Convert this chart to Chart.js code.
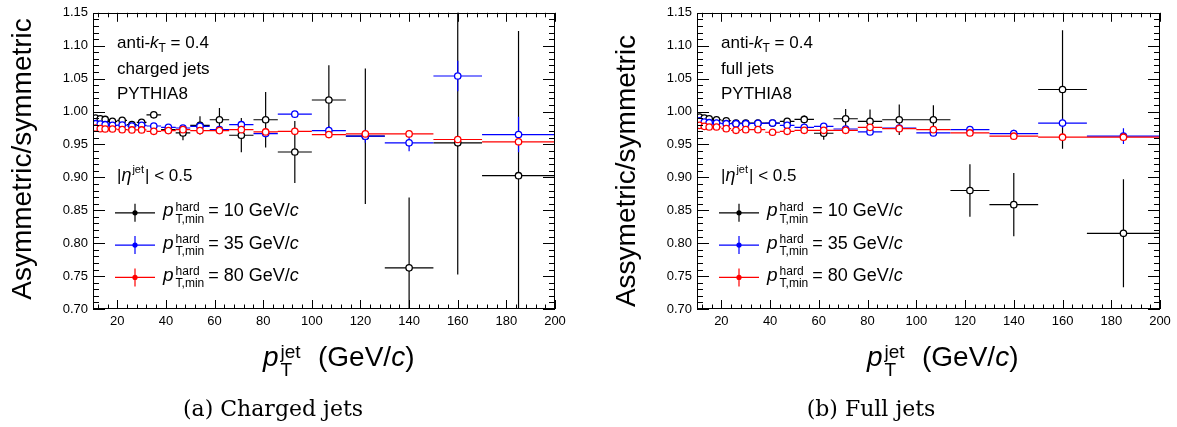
<!DOCTYPE html>
<html>
<head>
<meta charset="utf-8">
<script src="https://cdn.jsdelivr.net/npm/chart.js@4.4.1/dist/chart.umd.min.js"></script>
<style>
  html, body { margin: 0; padding: 0; background: #fff; width: 1177px; height: 427px; overflow: hidden; }
  canvas { position: absolute; top: 0; }
  #charged { left: 0; }
  #full { left: 588px; }
</style>
</head>
<body>
<canvas id="charged" width="588" height="427"></canvas>
<canvas id="full" width="589" height="427"></canvas>
<script>
// pT bins (GeV/c)
const binLow  = [10, 12, 14, 16, 20, 24, 28, 32, 38, 44, 50, 58, 66, 76, 86, 100, 114, 130, 150, 170];
const binHigh = [12, 14, 16, 20, 24, 28, 32, 38, 44, 50, 58, 66, 76, 86, 100, 114, 130, 150, 170, 200];

const xTickLabels = [20, 40, 60, 80, 100, 120, 140, 160, 180, 200];
const yTickLabels = [0.70, 0.75, 0.80, 0.85, 0.90, 0.95, 1.00, 1.05, 1.10, 1.15];

const hardLabels = ['10', '35', '80'];
const colors = ['#000000', '#0000ff', '#ff0000'];

// charged jets
const charged10    = [0.990, 0.989, 0.988, 0.985, 0.9865, 0.980, 0.9835, 0.995, 0.9725, 0.9675, 0.979, 0.9875, 0.964, 0.9875, 0.9385, 1.0175, 0.9625, 0.7625, 0.9525, 0.9025];
const charged10Err = [0.002, 0.002, 0.002, 0.002, 0.002, 0.002, 0.003, 0.004, 0.005, 0.011, 0.014, 0.018, 0.026, 0.042, 0.047, 0.053, 0.103, 0.107, 0.200, 0.220];
const charged35    = [0.9815, 0.981, 0.980, 0.979, 0.9795, 0.978, 0.979, 0.978, 0.976, 0.975, 0.9775, 0.9725, 0.980, 0.9665, 0.996, 0.971, 0.9625, 0.9525, 1.054, 0.965];
const charged35Err = [0.001, 0.001, 0.001, 0.001, 0.001, 0.001, 0.001, 0.001, 0.002, 0.002, 0.002, 0.002, 0.003, 0.003, 0.004, 0.007, 0.010, 0.013, 0.023, 0.027];
const charged80    = [0.975, 0.974, 0.9735, 0.9735, 0.9725, 0.972, 0.972, 0.970, 0.971, 0.9725, 0.971, 0.971, 0.9725, 0.969, 0.970, 0.965, 0.966, 0.966, 0.9575, 0.954];
const charged80Err = [0.001, 0.001, 0.001, 0.001, 0.001, 0.001, 0.001, 0.001, 0.001, 0.001, 0.001, 0.002, 0.002, 0.002, 0.002, 0.003, 0.003, 0.004, 0.004, 0.003];

// full jets
const full10    = [0.9915, 0.990, 0.989, 0.9875, 0.986, 0.9825, 0.9825, 0.9825, 0.9825, 0.985, 0.988, 0.967, 0.989, 0.985, 0.9875, 0.9875, 0.880, 0.8585, 1.0335, 0.815];
const full10Err = [0.002, 0.002, 0.002, 0.002, 0.002, 0.002, 0.002, 0.003, 0.003, 0.004, 0.006, 0.010, 0.015, 0.018, 0.023, 0.022, 0.040, 0.048, 0.090, 0.082];
const full35    = [0.986, 0.984, 0.983, 0.9825, 0.9815, 0.9815, 0.9815, 0.982, 0.9825, 0.979, 0.976, 0.9775, 0.9735, 0.969, 0.975, 0.9675, 0.9725, 0.9665, 0.9825, 0.9625];
const full35Err = [0.001, 0.001, 0.001, 0.001, 0.001, 0.001, 0.001, 0.001, 0.001, 0.001, 0.002, 0.002, 0.002, 0.002, 0.002, 0.003, 0.003, 0.006, 0.007, 0.012];
const full80    = [0.979, 0.9775, 0.9765, 0.9765, 0.974, 0.9715, 0.9725, 0.9725, 0.9685, 0.970, 0.9715, 0.9715, 0.9715, 0.976, 0.974, 0.9725, 0.9675, 0.9625, 0.961, 0.961];
const full80Err = [0.001, 0.001, 0.001, 0.001, 0.001, 0.001, 0.001, 0.001, 0.001, 0.001, 0.001, 0.001, 0.002, 0.002, 0.002, 0.002, 0.003, 0.003, 0.004, 0.004];

const SANS = '"Liberation Sans", Arial, sans-serif';

function series(vals, errs, i) {
    return {
        label: hardLabels[i],
        data: vals.map((v, k) => ({ x: (binLow[k] + binHigh[k]) / 2, y: v, err: errs[k], lo: binLow[k], hi: binHigh[k] })),
        borderColor: colors[i],
        backgroundColor: '#ffffff',
        pointRadius: 3.2,
        pointBorderWidth: 1.3,
        pointHoverRadius: 3.2,
        showLine: false,
        order: 3 - i
    };
}

// draw a list of text runs: [text, font, dy]
function drawRuns(ctx, x, y, runs) {
    for (const r of runs) {
        ctx.font = r[1];
        ctx.fillText(r[0], x, y + (r[2] || 0));
        x += ctx.measureText(r[0]).width;
    }
    return x;
}

const errorBars = {
    id: 'errorBars',
    beforeDatasetDraw(chart, args) {
        const { ctx, chartArea: a, scales: { x, y } } = chart;
        const ds = chart.data.datasets[args.index];
        ctx.save();
        ctx.beginPath();
        ctx.rect(a.left, a.top, a.width, a.height);
        ctx.clip();
        ctx.strokeStyle = ds.borderColor;
        ctx.lineWidth = 1.2;
        ctx.beginPath();
        ds.data.forEach(p => {
            const py = y.getPixelForValue(p.y);
            const px = x.getPixelForValue(p.x);
            ctx.moveTo(x.getPixelForValue(p.lo), py);
            ctx.lineTo(x.getPixelForValue(p.hi), py);
            ctx.moveTo(px, y.getPixelForValue(p.y + p.err));
            ctx.lineTo(px, y.getPixelForValue(p.y - p.err));
        });
        ctx.stroke();
        ctx.restore();
    }
};

const frameAndText = {
    id: 'frameAndText',
    afterDraw(chart, args, o) {
        const { ctx, chartArea: a, scales: { x, y } } = chart;
        ctx.save();
        ctx.strokeStyle = '#000';
        ctx.lineWidth = 1;
        ctx.strokeRect(Math.round(a.left) + 0.5, Math.round(a.top) + 0.5, Math.round(a.width) - 1, Math.round(a.height) - 1);

        // ticks on all four sides, pointing inwards
        ctx.beginPath();
        for (let v = 12; v <= 200; v += 4) {
            const px = Math.round(x.getPixelForValue(v)) + 0.5;
            const len = v % 20 === 0 ? 9 : 4.5;
            ctx.moveTo(px, a.bottom); ctx.lineTo(px, a.bottom - len);
            ctx.moveTo(px, a.top); ctx.lineTo(px, a.top + len);
        }
        for (let k = 70; k <= 115; k++) {
            const py = Math.round(y.getPixelForValue(k / 100)) + 0.5;
            const len = k % 5 === 0 ? 12 : 6;
            ctx.moveTo(a.left, py); ctx.lineTo(a.left + len, py);
            ctx.moveTo(a.right, py); ctx.lineTo(a.right - len, py);
        }
        ctx.stroke();

        ctx.fillStyle = '#000';
        ctx.textBaseline = 'alphabetic';
        ctx.textAlign = 'left';

        // annotations
        const tx = a.left + 24;
        drawRuns(ctx, tx, a.top + 35, [['anti-', '17px ' + SANS], ['k', 'italic 17px ' + SANS], ['T', '12px ' + SANS, 4], [' = 0.4', '17px ' + SANS]]);
        drawRuns(ctx, tx, a.top + 61, [[o.jets, '17px ' + SANS]]);
        drawRuns(ctx, tx, a.top + 86, [['PYTHIA8', '17px ' + SANS]]);
        let ex = drawRuns(ctx, tx, a.top + 168, [['|', '17px ' + SANS], ['\u03b7', 'italic 18px ' + SANS]]);
        ex = drawRuns(ctx, ex + 1, a.top + 168, [['jet', '11px ' + SANS, -8]]);
        drawRuns(ctx, ex + 1, a.top + 168, [['| < 0.5', '17px ' + SANS]]);

        // legend
        hardLabels.forEach((h, i) => {
            const cy = a.top + 200 + i * 32.3;
            ctx.strokeStyle = colors[i];
            ctx.fillStyle = colors[i];
            ctx.lineWidth = 1.2;
            ctx.beginPath();
            ctx.moveTo(a.left + 22, cy); ctx.lineTo(a.left + 62, cy);
            ctx.moveTo(a.left + 42, cy - 9); ctx.lineTo(a.left + 42, cy + 9);
            ctx.stroke();
            ctx.beginPath();
            ctx.arc(a.left + 42, cy, 2.6, 0, Math.PI * 2);
            ctx.fill();
            ctx.fillStyle = '#000';
            const bx = drawRuns(ctx, a.left + 70, cy + 3.5, [['p', 'italic 19px ' + SANS]]);
            ctx.font = '12px ' + SANS;
            const sw = Math.max(ctx.measureText('hard').width, ctx.measureText('T,min').width);
            drawRuns(ctx, bx + 2, cy - 2, [['hard', '12px ' + SANS]]);
            drawRuns(ctx, bx + 2, cy + 10, [['T,min', '12px ' + SANS]]);
            drawRuns(ctx, bx + sw + 6, cy + 3.5, [['= ' + h + ' GeV/', '18px ' + SANS], ['c', 'italic 18px ' + SANS]]);
        });

        // x title
        let xx = drawRuns(ctx, a.left + 170, 366, [['p', 'italic 28px ' + SANS]]);
        drawRuns(ctx, xx + 2, 358, [['jet', '19px ' + SANS]]);
        drawRuns(ctx, xx + 2, 376, [['T', '19px ' + SANS]]);
        drawRuns(ctx, a.left + 225, 366, [['(GeV/', '28px ' + SANS], ['c', 'italic 28px ' + SANS], [')', '28px ' + SANS]]);

        // y title
        ctx.save();
        ctx.translate(a.left - 62, o.yTitleY);
        ctx.rotate(-Math.PI / 2);
        ctx.textAlign = 'center';
        ctx.font = '28px ' + SANS;
        ctx.fillText(o.yTitle, 0, 0);
        ctx.restore();

        // caption
        ctx.textAlign = 'center';
        ctx.font = '22px "DejaVu Serif", serif';
        ctx.fillText(o.caption, a.left + o.captionDx, 416);
        ctx.restore();
    }
};

function makeChart(id, sets, padRight, axisWidth, text) {
    return new Chart(document.getElementById(id), {
        type: 'scatter',
        data: { datasets: sets },
        options: {
            responsive: false,
            animation: false,
            devicePixelRatio: 1,
            layout: { padding: { top: 10, right: padRight, bottom: 0, left: 0 } },
            plugins: { legend: { display: false }, tooltip: { enabled: false }, frameAndText: text },
            scales: {
                x: {
                    type: 'linear', min: 10, max: 200,
                    grid: { display: false, drawTicks: false },
                    border: { display: false },
                    afterBuildTicks: s => { s.ticks = xTickLabels.map(v => ({ value: v })); },
                    afterFit: s => { s.height = 118; },
                    ticks: { color: '#000', padding: 5, maxRotation: 0, font: { family: SANS, size: 13 } }
                },
                y: {
                    type: 'linear', min: 0.70, max: 1.15,
                    grid: { display: false, drawTicks: false },
                    border: { display: false },
                    afterBuildTicks: s => { s.ticks = yTickLabels.map(v => ({ value: v })); },
                    afterFit: s => { s.width = axisWidth; },
                    ticks: { color: '#000', padding: 5, font: { family: SANS, size: 13 }, callback: v => v.toFixed(2) }
                }
            }
        },
        plugins: [errorBars, frameAndText]
    });
}

makeChart('charged',
    [series(charged10, charged10Err, 0), series(charged35, charged35Err, 1), series(charged80, charged80Err, 2)],
    33, 93,
    { jets: 'charged jets', yTitle: 'Asymmetric/symmetric', yTitleY: 159, caption: '(a) Charged jets', captionDx: 180 });

makeChart('full',
    [series(full10, full10Err, 0), series(full35, full35Err, 1), series(full80, full80Err, 2)],
    17, 109,
    { jets: 'full jets', yTitle: 'Assymetric/symmetric', yTitleY: 171, caption: '(b) Full jets', captionDx: 174 });
</script>
</body>
</html>
